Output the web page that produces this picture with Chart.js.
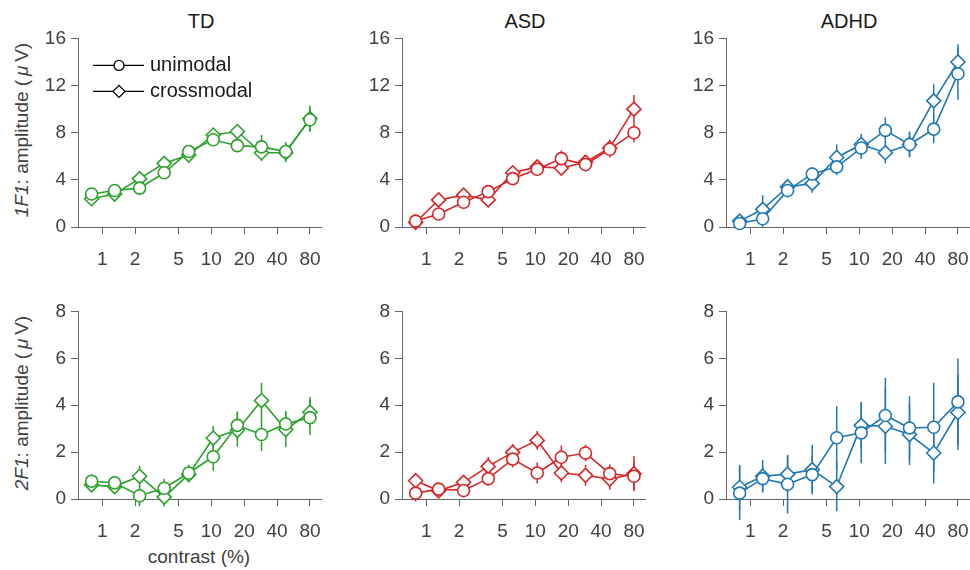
<!DOCTYPE html>
<html>
<head>
<meta charset="utf-8">
<script src="https://cdn.jsdelivr.net/npm/chart.js@4.4.0/dist/chart.umd.min.js"></script>
<style>
  body { margin: 0; width: 970px; height: 570px; overflow: hidden; background: #fff; position: relative;
         font-family: "Liberation Sans", Arial, sans-serif; }
  canvas { position: absolute; }
  .ttl { position: absolute; font-size: 20px; line-height: 20px; color: #1a1a1a; transform: translateX(-50%); white-space: nowrap; }
  .ylab { position: absolute; font-size: 19px; line-height: 22px; color: #404040; white-space: nowrap;
          transform: translate(-50%, -50%) rotate(-90deg); }
  .xlab { position: absolute; font-size: 19px; line-height: 22px; color: #404040; white-space: nowrap; transform: translate(-50%, -50%); }
</style>
</head>
<body>
<div class="ttl" style="left:201px; top:11px">TD</div>
<div class="ttl" style="left:525px; top:11px">ASD</div>
<div class="ttl" style="left:849px; top:11px">ADHD</div>
<div class="ylab" style="left:22px; top:130px"><i>1F1</i>: amplitude (&#8201;<i>μ</i>&#8201;V)</div>
<div class="ylab" style="left:22px; top:403px"><i>2F1</i>: amplitude (&#8201;<i>μ</i>&#8201;V)</div>
<div class="xlab" style="left:199px; top:557px">contrast (%)</div>

<canvas id="c11"></canvas>
<canvas id="c12"></canvas>
<canvas id="c13"></canvas>
<canvas id="c21"></canvas>
<canvas id="c22"></canvas>
<canvas id="c23"></canvas>

<script>
// contrast levels (%) and tick labels
const contrast = [0.8, 1.3, 2.2, 3.7, 6.2, 10.4, 17.3, 28.8, 48, 80];
const xTicks = [1, 2, 5, 10, 20, 40, 80];
const seriesNames = ["unimodal", "crossmodal"];

// 1F1 amplitude
const tdF1Uni = [2.8, 3.1, 3.3, 4.6, 6.4, 7.4, 6.9, 6.8, 6.4, 9.1];
const tdF1UniErr = [0.3, 0.3, 0.3, 0.4, 0.4, 0.5, 0.5, 1.0, 0.8, 1.0];
const tdF1Cross = [2.4, 2.8, 4.1, 5.4, 6.1, 7.8, 8.1, 6.3, 6.3, 9.2];
const tdF1CrossErr = [0.3, 0.3, 0.3, 0.4, 0.4, 0.6, 0.6, 0.7, 0.8, 1.1];

const asdF1Uni = [0.5, 1.1, 2.1, 3.0, 4.1, 4.9, 5.8, 5.3, 6.6, 8.0];
const asdF1UniErr = [0.2, 0.2, 0.3, 0.3, 0.3, 0.4, 0.7, 0.6, 0.7, 0.8];
const asdF1Cross = [0.4, 2.3, 2.7, 2.3, 4.6, 5.1, 5.0, 5.5, 6.7, 10.0];
const asdF1CrossErr = [0.2, 0.3, 0.3, 0.3, 0.4, 0.5, 0.6, 0.5, 0.7, 1.2];

const adhdF1Uni = [0.3, 0.7, 3.1, 4.5, 5.1, 6.7, 8.2, 7.0, 8.3, 13.0];
const adhdF1UniErr = [0.2, 0.7, 0.6, 0.6, 0.7, 0.9, 1.1, 1.0, 1.2, 2.2];
const adhdF1Cross = [0.5, 1.5, 3.4, 3.7, 5.9, 7.0, 6.3, 7.0, 10.7, 14.0];
const adhdF1CrossErr = [0.2, 1.2, 0.7, 0.8, 1.1, 0.9, 0.9, 1.1, 1.4, 1.5];

// 2F1 amplitude
const tdF2Uni = [0.76, 0.69, 0.14, 0.46, 1.11, 1.8, 3.14, 2.75, 3.2, 3.47];
const tdF2UniErr = [0.3, 0.3, 0.45, 0.4, 0.35, 0.6, 0.6, 0.7, 0.55, 0.75];
const tdF2Cross = [0.6, 0.53, 0.97, 0.08, 1.05, 2.6, 2.93, 4.2, 2.96, 3.7];
const tdF2CrossErr = [0.3, 0.3, 0.45, 0.4, 0.35, 0.5, 0.7, 0.75, 0.75, 0.65];

const asdF2Uni = [0.25, 0.42, 0.36, 0.87, 1.7, 1.11, 1.78, 1.96, 1.08, 0.97];
const asdF2UniErr = [0.35, 0.25, 0.3, 0.3, 0.35, 0.45, 0.5, 0.35, 0.4, 0.6];
const asdF2Cross = [0.78, 0.35, 0.71, 1.39, 1.99, 2.5, 1.11, 1.01, 0.85, 1.08];
const asdF2CrossErr = [0.3, 0.25, 0.3, 0.4, 0.35, 0.4, 0.4, 0.45, 0.45, 0.75];

const adhdF2Uni = [0.25, 0.87, 0.63, 1.04, 2.61, 2.82, 3.56, 3.03, 3.06, 4.14];
const adhdF2UniErr = [1.15, 0.5, 1.25, 0.8, 1.35, 1.3, 1.6, 1.35, 1.9, 1.85];
const adhdF2Cross = [0.5, 0.97, 1.06, 1.25, 0.53, 3.14, 3.1, 2.75, 1.96, 3.69];
const adhdF2CrossErr = [0.95, 0.7, 0.8, 1.05, 1.05, 1.0, 1.6, 1.3, 1.3, 1.6];

const colores = { td: "#2ca02c", asd: "#d62728", adhd: "#1f77b4" };

const FONT = "'Liberation Sans', Arial, sans-serif";
const YW = 60, PT = 12, PR = 10, XH = 50, AREA_W = 247;

// vertical error bars, drawn under the lines and markers
const errorBars = {
  id: "errorBars",
  beforeDatasetsDraw(chart) {
    const { ctx, scales: { x, y } } = chart;
    chart.data.datasets.forEach(ds => {
      ctx.save();
      ctx.strokeStyle = ds.borderColor;
      ctx.lineWidth = 1.5;
      ds.data.forEach((p, i) => {
        const px = x.getPixelForValue(p.x);
        ctx.beginPath();
        ctx.moveTo(px, y.getPixelForValue(p.y - ds.errors[i]));
        ctx.lineTo(px, y.getPixelForValue(p.y + ds.errors[i]));
        ctx.stroke();
      });
      ctx.restore();
    });
  }
};

// little legend inside the first panel
const insetLegend = {
  id: "insetLegend",
  afterDraw(chart, args, opts) {
    if (!opts.show) return;
    const ctx = chart.ctx;
    const a = chart.chartArea;
    const x0 = a.left + 15, x1 = a.left + 66, xm = a.left + 41;
    ctx.save();
    ctx.strokeStyle = "#000";
    ctx.fillStyle = "#fff";
    ctx.lineWidth = 1.3;
    seriesNames.forEach((name, i) => {
      const yy = a.top + 27 + i * 26;
      ctx.beginPath();
      ctx.moveTo(x0, yy);
      ctx.lineTo(x1, yy);
      ctx.stroke();
      ctx.beginPath();
      if (i === 0) {
        ctx.arc(xm, yy, 5, 0, Math.PI * 2);
      } else {
        ctx.moveTo(xm, yy - 6);
        ctx.lineTo(xm + 6, yy);
        ctx.lineTo(xm, yy + 6);
        ctx.lineTo(xm - 6, yy);
        ctx.closePath();
      }
      ctx.fill();
      ctx.stroke();
      ctx.fillStyle = "#1a1a1a";
      ctx.font = "20px " + FONT;
      ctx.textBaseline = "middle";
      ctx.fillText(name, a.left + 72, yy);
      ctx.fillStyle = "#fff";
    });
    ctx.restore();
  }
};

function serie(label, vals, errs, color, style, radius) {
  return {
    label: label,
    data: contrast.map((c, i) => ({ x: c, y: vals[i] })),
    errors: errs,
    borderColor: color,
    backgroundColor: "#fff",
    borderWidth: 1.6,
    pointStyle: style,
    pointRadius: radius,
    pointBorderWidth: 1.6,
    pointBackgroundColor: "#fff",
    tension: 0,
    clip: false
  };
}

function panel(id, axisX, topY, bottomY, yMax, yStep, uni, uniErr, cross, crossErr, color, showLegend) {
  const cv = document.getElementById(id);
  const h = bottomY - topY;
  cv.width = YW + AREA_W + PR;
  cv.height = PT + h + XH;
  cv.style.left = (axisX - YW) + "px";
  cv.style.top = (topY - PT) + "px";

  new Chart(cv, {
    type: "line",
    data: {
      datasets: [
        serie(seriesNames[0], uni, uniErr, color, "circle", 6),
        serie(seriesNames[1], cross, crossErr, color, "rectRot", 7)
      ]
    },
    options: {
      responsive: false,
      animation: false,
      devicePixelRatio: 1,
      layout: { padding: { left: 0, top: PT, right: PR, bottom: 0 } },
      plugins: {
        legend: { display: false },
        tooltip: { enabled: false },
        insetLegend: { show: showLegend }
      },
      scales: {
        x: {
          type: "logarithmic",
          min: 0.62,
          max: 103,
          afterBuildTicks: s => { s.ticks = xTicks.map(v => ({ value: v })); },
          afterFit: s => { s.height = XH; },
          ticks: {
            callback: v => String(v),
            autoSkip: false,
            maxRotation: 0,
            padding: 14,
            color: "#404040",
            font: { size: 19, family: FONT }
          },
          grid: { drawOnChartArea: false, color: "#666", tickLength: 7 },
          border: { color: "#666", width: 1 }
        },
        y: {
          min: 0,
          max: yMax,
          afterFit: s => { s.width = YW; },
          ticks: {
            stepSize: yStep,
            padding: 5,
            color: "#404040",
            font: { size: 19, family: FONT }
          },
          grid: { drawOnChartArea: false, color: "#666", tickLength: 7 },
          border: { color: "#666", width: 1 }
        }
      }
    },
    plugins: [errorBars, insetLegend]
  });
}

panel("c11", 78, 34, 227, 16, 4, tdF1Uni, tdF1UniErr, tdF1Cross, tdF1CrossErr, colores.td, true);
panel("c12", 402, 34, 227, 16, 4, asdF1Uni, asdF1UniErr, asdF1Cross, asdF1CrossErr, colores.asd, false);
panel("c13", 726, 34, 227, 16, 4, adhdF1Uni, adhdF1UniErr, adhdF1Cross, adhdF1CrossErr, colores.adhd, false);
panel("c21", 78, 307, 499, 8, 2, tdF2Uni, tdF2UniErr, tdF2Cross, tdF2CrossErr, colores.td, false);
panel("c22", 402, 307, 499, 8, 2, asdF2Uni, asdF2UniErr, asdF2Cross, asdF2CrossErr, colores.asd, false);
panel("c23", 726, 307, 499, 8, 2, adhdF2Uni, adhdF2UniErr, adhdF2Cross, adhdF2CrossErr, colores.adhd, false);
</script>
</body>
</html>
